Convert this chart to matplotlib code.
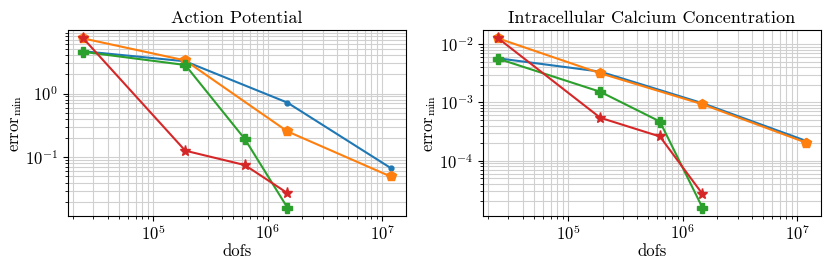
import numpy as np
import matplotlib
matplotlib.use("Agg")
from matplotlib import pyplot as plt

plt.rcParams['font.family'] = 'serif'
plt.rcParams['font.serif'] = ['cmr10', 'DejaVu Serif']
plt.rcParams['mathtext.fontset'] = 'cm'
plt.rcParams['axes.formatter.use_mathtext'] = True
plt.rcParams['axes.unicode_minus'] = False
plt.rcParams['font.size'] = 11

# dofs of the meshes
dofs_a = [2.45e4, 1.9e5, 1.48e6, 1.18e7]
dofs_b = [2.45e4, 1.9e5, 6.3e5, 1.48e6]

# action potential errors
ap_blue = [4.6, 3.2, 0.72, 0.068]
ap_orange = [7.3, 3.3, 0.255, 0.050]
ap_green = [4.5, 2.8, 0.193, 0.0163]
ap_red = [7.3, 0.127, 0.0755, 0.0275]

# calcium errors
ca_blue = [5.7e-3, 3.37e-3, 9.7e-4, 2.2e-4]
ca_orange = [1.25e-2, 3.16e-3, 9.3e-4, 2.05e-4]
ca_green = [5.6e-3, 1.52e-3, 4.7e-4, 1.57e-5]
ca_red = [1.25e-2, 5.45e-4, 2.6e-4, 2.7e-5]

titles = ["Action Potential", "Intracellular Calcium Concentration"]
data = [(ap_blue, ap_orange, ap_green, ap_red),
        (ca_blue, ca_orange, ca_green, ca_red)]

fig = plt.figure(figsize=(8.31, 2.67), dpi=100)
ax1 = fig.add_axes([68 / 831, 1 - 216 / 267, 338 / 831, 186 / 267])
ax2 = fig.add_axes([483 / 831, 1 - 216 / 267, 338 / 831, 186 / 267])

for ax, title, (b, o, g, r) in zip([ax1, ax2], titles, data):
    ax.loglog(dofs_a, b, marker='o', markersize=3.5, color='tab:blue', lw=1.5)
    ax.loglog(dofs_a, o, marker='p', markersize=7, color='tab:orange', lw=1.5)
    ax.loglog(dofs_b, g, marker='P', markersize=7.5, color='tab:green', lw=1.5)
    ax.loglog(dofs_b, r, marker='*', markersize=8, color='tab:red', lw=1.5)
    ax.grid(True, which='both', color='#d0d0d0', lw=0.8)
    ax.set_axisbelow(True)
    ax.set_title(title, fontsize=13, pad=5)
    ax.set_xlabel('dofs', fontsize=12, labelpad=1)
    ax.set_ylabel(r'$\mathrm{error}_{\mathrm{min}}$', fontsize=12, labelpad=1)
    ax.tick_params(labelsize=12)
    ax.tick_params(axis='x', which='major', pad=1.5)

plt.savefig('out.png', dpi=100)
